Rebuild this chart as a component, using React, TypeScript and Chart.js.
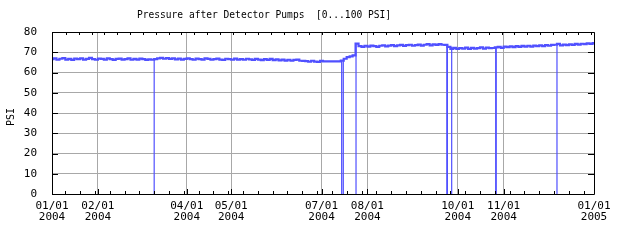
import React, { useEffect, useRef } from 'react';
import { Chart, registerables } from 'chart.js';

Chart.register(...registerables);

const TITLE = 'Pressure after Detector Pumps  [0...100 PSI]';
const Y_TITLE = 'PSI';

// Samples every 2 days starting at 01/01/2004 (day 0)
const SAMPLE_START_DAY = 0;
const SAMPLE_STEP_DAYS = 2;
const pressurePsi: number[] = [
  // days 0-68
  66.6, 67.0, 66.3, 66.8, 67.1, 66.4, 66.7, 66.2, 66.9, 66.6,
  67.0, 66.4, 66.7, 67.2, 66.6, 66.3, 66.9, 66.7, 66.4, 67.0,
  66.6, 66.2, 66.7, 66.9, 66.4, 66.6, 67.0, 66.3, 66.7, 66.4,
  66.9, 66.6, 66.2, 66.5, 66.3,
  // days 70-184
  66.6, 67.0, 67.2, 66.8, 67.1, 66.7, 67.0, 66.5, 66.9, 66.4,
  66.7, 67.0, 66.6, 66.3, 66.9, 66.6, 66.4, 67.0, 66.7, 66.3,
  66.6, 66.9, 66.4, 66.2, 66.8, 66.6, 66.3, 66.9, 66.4, 66.6,
  66.3, 66.8, 66.5, 66.2, 66.7, 66.4, 66.1, 66.6, 66.2, 66.7,
  66.1, 66.5, 66.0, 66.4, 65.9, 66.3, 65.8, 66.2, 66.4, 65.8,
  65.7, 65.6, 65.3, 65.8, 65.4, 65.2, 65.7, 65.5,
  // days 186-194
  65.5, 65.5, 65.5, 65.5, 65.5,
  // days 196-204
  65.9, 66.8, 67.6, 68.0, 68.5,
  // days 206-264
  74.3, 73.0, 72.7, 73.2, 72.8, 73.3, 73.0, 72.7, 73.2, 73.4,
  72.9, 73.3, 73.5, 73.0, 73.4, 73.6, 73.1, 73.5, 73.7, 73.2,
  73.5, 73.8, 73.3, 73.7, 74.0, 73.4, 73.9, 73.6, 74.0, 73.7,
  // days 266, 268
  73.6, 72.7,
  // days 270-298
  71.7, 72.2, 71.6, 72.1, 71.8, 72.3, 71.7, 72.2, 71.8, 72.0,
  72.4, 71.8, 72.3, 72.0, 72.1,
  // days 300-366
  72.4, 72.7, 72.2, 72.8, 72.5, 72.9, 72.5, 73.0, 72.7, 73.1,
  72.8, 73.2, 72.8, 73.3, 73.0, 73.4, 73.0, 73.5, 73.2, 73.6,
  73.7, 74.1, 73.4, 73.8, 73.5, 73.9, 73.6, 74.1, 73.8, 74.2,
  74.0, 74.4, 74.1, 74.5,
];

// Short drops to zero (day of year, level before drop)
const dipDays = [69, 195.6, 196.7, 205.3, 266.6, 267.0, 269.9, 299.6, 300.0, 341.0];
const dipTopPsi = [66.6, 65.5, 66.0, 74.5, 73.6, 73.6, 72.7, 72.0, 72.4, 73.9];

const monthTickDays = [0, 31, 91, 121, 182, 213, 274, 305, 366];
const monthTickLabels = [
  ['01/01', '2004'],
  ['02/01', '2004'],
  ['04/01', '2004'],
  ['05/01', '2004'],
  ['07/01', '2004'],
  ['08/01', '2004'],
  ['10/01', '2004'],
  ['11/01', '2004'],
  ['01/01', '2005'],
];

const Y_MIN = 0;
const Y_MAX = 80;
const Y_STEP = 10;
const X_MIN = 0;
const X_MAX = 366;

const LINE_BLUE = '#5050ff';
const GRID_GREY = '#a8a8a8';
const MONO = '"DejaVu Sans Mono", "Liberation Mono", monospace';

const framePlugin = {
  id: 'frame',
  afterDraw(chart: any) {
    const { ctx, chartArea } = chart;
    const { left, right, top, bottom } = chartArea;
    const xs = chart.scales.x;
    const ys = chart.scales.y;
    ctx.save();
    ctx.strokeStyle = '#000';
    ctx.lineWidth = 1;
    ctx.beginPath();
    ctx.rect(Math.round(left) + 0.5, Math.round(top) + 0.5, Math.round(right - left), Math.round(bottom - top));
    ctx.stroke();
    ctx.beginPath();
    for (let d = 9; d < X_MAX; d += 10) {
      const x = Math.round(xs.getPixelForValue(d)) + 0.5;
      ctx.moveTo(x, bottom);
      ctx.lineTo(x, bottom - 3);
    }
    for (let d = 9.5; d < X_MAX; d += 8.65) {
      const x = Math.round(xs.getPixelForValue(d)) + 0.5;
      ctx.moveTo(x, top);
      ctx.lineTo(x, top + 3);
    }
    for (const d of monthTickDays) {
      const x = Math.round(xs.getPixelForValue(d)) + 0.5;
      ctx.moveTo(x, bottom);
      ctx.lineTo(x, bottom - 5);
    }
    for (let v = Y_MIN; v <= Y_MAX; v += Y_STEP) {
      const y = Math.round(ys.getPixelForValue(v)) + 0.5;
      ctx.moveTo(right, y);
      ctx.lineTo(right - 6, y);
      ctx.moveTo(left, y);
      ctx.lineTo(left + 6, y);
    }
    ctx.stroke();
    ctx.fillStyle = '#000';
    ctx.font = `9.6px ${MONO}`;
    ctx.textAlign = 'center';
    ctx.textBaseline = 'middle';
    ctx.fillText(TITLE, 264, 15);
    ctx.font = `10px ${MONO}`;
    ctx.translate(11, 117);
    ctx.rotate(-Math.PI / 2);
    ctx.fillText(Y_TITLE, 0, 0);
    ctx.restore();
  },
};

export default function App() {
  const ref = useRef<HTMLCanvasElement | null>(null);
  useEffect(() => {
    if (!ref.current) return;
    const mainData = pressurePsi.map((v, i) => ({ x: SAMPLE_START_DAY + i * SAMPLE_STEP_DAYS, y: v }));
    const dipData: any[] = [];
    dipDays.forEach((d, i) => {
      dipData.push({ x: d, y: dipTopPsi[i] });
      dipData.push({ x: d, y: 0 });
      dipData.push({ x: d, y: null });
    });
    const chart = new Chart(ref.current, {
      type: 'line',
      data: {
        datasets: [
          {
            data: mainData,
            borderColor: LINE_BLUE,
            borderWidth: 2.2,
            pointRadius: 0,
            stepped: 'middle',
            fill: false,
          },
          {
            data: dipData,
            borderColor: LINE_BLUE,
            borderWidth: 1.2,
            pointRadius: 0,
            spanGaps: false,
            fill: false,
          },
        ],
      },
      plugins: [framePlugin],
      options: {
        animation: false,
        responsive: false,
        devicePixelRatio: 1,
        layout: { padding: { top: 32, right: 46, left: 0, bottom: 0 } },
        plugins: { legend: { display: false }, tooltip: { enabled: false }, title: { display: false } },
        scales: {
          x: {
            type: 'linear',
            min: X_MIN,
            max: X_MAX,
            afterBuildTicks: (scale: any) => {
              scale.ticks = monthTickDays.map((v) => ({ value: v }));
            },
            afterFit: (scale: any) => {
              scale.height = 46;
            },
            grid: { color: GRID_GREY, drawTicks: false, lineWidth: 1 },
            border: { display: false },
            ticks: {
              autoSkip: false,
              maxRotation: 0,
              padding: 7,
              color: '#000',
              font: { family: MONO, size: 11, lineHeight: 1.0 },
              callback: (_v: any, i: number) => monthTickLabels[i],
            },
          },
          y: {
            min: Y_MIN,
            max: Y_MAX,
            afterFit: (scale: any) => {
              scale.width = 52;
            },
            grid: { color: GRID_GREY, drawTicks: false, lineWidth: 1 },
            border: { display: false },
            ticks: {
              stepSize: Y_STEP,
              padding: 15,
              color: '#000',
              font: { family: MONO, size: 11 },
            },
          },
        },
      },
    });
    return () => chart.destroy();
  }, []);
  return (
    <div style={{ position: 'absolute', left: 0, top: 0, width: 640, height: 240, background: '#fff' }}>
      <canvas ref={ref} width={640} height={240} />
    </div>
  );
}
